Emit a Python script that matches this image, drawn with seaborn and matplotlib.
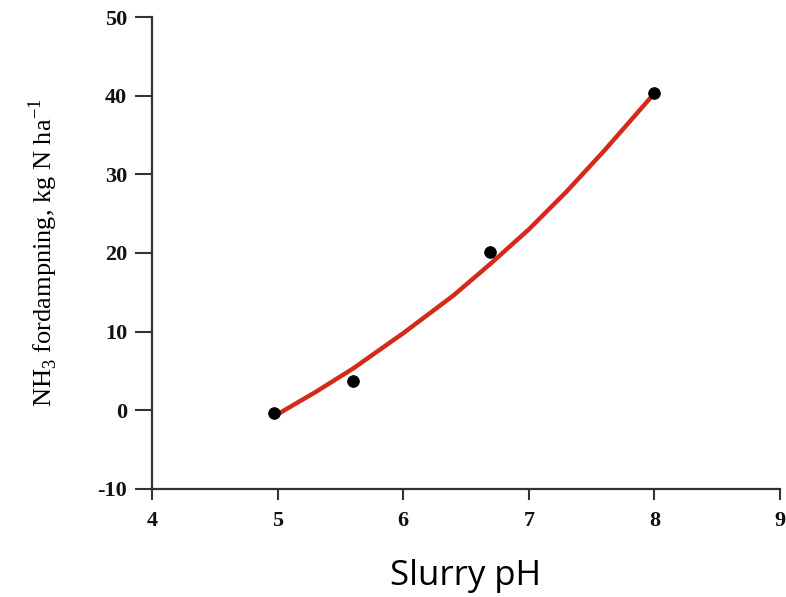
"""
plot.py
NH3 volatilisation vs slurry pH, with fitted curve.
"""

import pandas as pd
import seaborn as sns
import matplotlib.pyplot as plt

# measured points
ph_points = [4.97, 5.6, 6.69, 8.0]
nh3_points = [-0.3, 3.7, 20.1, 40.3]

# fitted curve
ph_curve = [5.0, 5.3, 5.6, 6.0, 6.4, 6.7, 7.0, 7.3, 7.6, 8.0]
nh3_curve = [-0.5, 2.3, 5.3, 9.8, 14.6, 18.7, 23.0, 27.8, 33.0, 40.3]

x_ticks = [4, 5, 6, 7, 8, 9]
y_ticks = [-10, 0, 10, 20, 30, 40, 50]


def make_plot():
    points = pd.DataFrame({"ph": ph_points, "nh3": nh3_points})
    curve = pd.DataFrame({"ph": ph_curve, "nh3": nh3_curve})

    sns.set_style("ticks")
    plt.rcParams["font.family"] = ["Liberation Serif", "DejaVu Serif"]
    plt.rcParams["mathtext.fontset"] = "custom"
    plt.rcParams["mathtext.rm"] = "Liberation Serif"
    plt.rcParams["text.color"] = "black"
    plt.rcParams["axes.labelcolor"] = "black"

    fig = plt.figure(figsize=(7.86, 5.97), dpi=100)
    ax = fig.add_axes([0.1934, 0.181, 0.799, 0.7905])

    sns.lineplot(data=curve, x="ph", y="nh3", color="#d32a1c", linewidth=3.2, ax=ax)
    sns.scatterplot(data=points, x="ph", y="nh3", color="black", s=70,
                    edgecolor="black", zorder=3, ax=ax)

    ax.set_xlim(4, 9)
    ax.set_ylim(-10, 50)
    ax.set_xticks(x_ticks)
    ax.set_yticks(y_ticks)
    ax.set_xticklabels([str(v) for v in x_ticks], fontsize=16, fontweight="bold")
    ax.set_yticklabels([str(v) for v in y_ticks], fontsize=16, fontweight="bold")
    ax.tick_params(axis="both", direction="out", width=1.5, colors="#333333",
                   labelcolor="#111111")
    ax.tick_params(axis="y", length=12, pad=6)
    ax.tick_params(axis="x", length=8, pad=8)

    for side in ["top", "right"]:
        ax.spines[side].set_visible(False)
    for side in ["left", "bottom"]:
        ax.spines[side].set_linewidth(1.6)
        ax.spines[side].set_color("#333333")

    ax.set_xlabel("Slurry pH", fontsize=25, family=["Open Sans", "DejaVu Sans"],
                  labelpad=20)
    ax.set_ylabel("NH$_3$ fordampning, kg N ha$^{\\mathregular{-1}}$", fontsize=19,
                  labelpad=27)

    fig.savefig("out.png", dpi=100)
    plt.close(fig)


if __name__ == "__main__":
    make_plot()
